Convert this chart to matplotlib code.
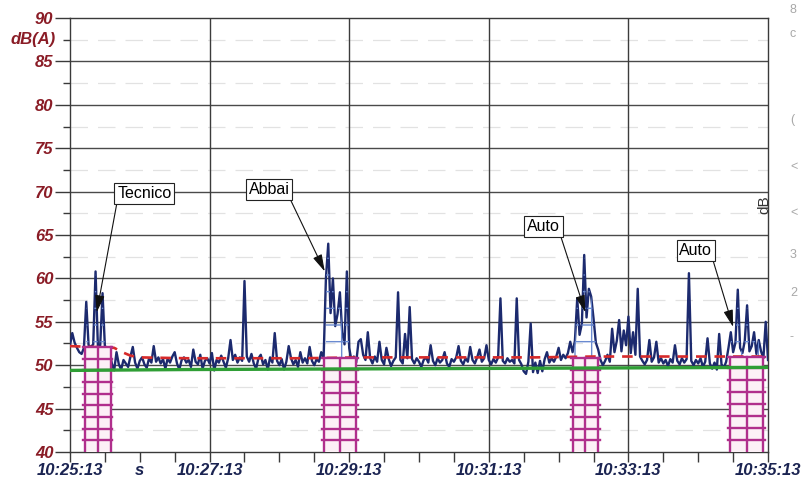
import numpy as np
import matplotlib.pyplot as plt
from matplotlib.patches import Rectangle
import matplotlib.transforms as mtransforms

plt.rcParams['font.family'] = ['Liberation Sans', 'DejaVu Sans']

# --- data -------------------------------------------------------------
# seconds after 10:25:13, one reading every 2 s
step_s = 2
level_db = [
    52.3, 53.7, 52.6, 52.0, 51.5, 51.3, 52.0, 57.3, 52.3, 52.1,
    52.4, 60.8, 52.2, 52.3, 58.3, 52.2, 52.0, 51.6, 50.2, 49.4,
    51.5, 50.1, 49.5, 50.6, 50.2, 49.8, 51.0, 52.1, 50.3, 49.6,
    50.5, 50.9, 50.1, 49.7, 50.8, 50.3, 52.2, 50.4, 50.9, 50.2,
    50.7, 49.6, 50.8, 50.3, 51.0, 51.5, 50.2, 49.5, 50.6, 50.9,
    50.3, 50.6, 49.8, 51.8, 50.4, 50.1, 51.2, 49.6, 50.5, 50.8,
    50.2, 51.4, 49.4, 50.6, 50.3, 51.1, 50.4, 49.7, 50.8, 52.9,
    50.6, 51.2, 50.3, 50.9, 50.5, 59.7, 51.0, 50.4, 51.3, 50.2,
    49.6, 50.8, 51.2, 50.1, 50.6, 49.5, 50.9, 50.3, 53.7, 50.5,
    50.0, 50.7, 49.5, 50.4, 52.2, 50.8, 50.1, 50.6, 49.8, 51.5,
    50.3, 50.8, 50.2, 52.1, 50.5, 50.0, 50.7, 50.4, 51.5, 50.8,
    60.0, 64.0, 56.0, 60.0, 54.5, 55.9, 58.4, 53.8, 52.4, 60.8,
    52.0, 50.5, 51.0, 50.3, 52.7, 53.0, 51.2, 50.6, 53.8, 50.8,
    50.2, 51.0, 50.4, 52.7, 50.6, 50.1, 52.0, 50.7, 49.9, 50.5,
    50.9, 58.4, 50.6, 50.2, 53.6, 50.8, 56.7, 50.7, 50.2, 50.8,
    50.4, 49.8, 50.6, 50.9, 50.3, 52.3, 50.5, 50.0, 50.8, 50.3,
    50.6, 51.5, 50.2, 49.8, 50.7, 50.4, 50.9, 52.2, 50.5, 50.1,
    50.8, 50.4, 52.1, 50.6, 50.2, 50.9, 51.8, 50.4, 50.8, 52.3,
    50.6, 50.1, 50.7, 50.3, 50.9, 57.7, 50.5, 50.2, 50.8, 50.4,
    50.6, 50.2, 57.7, 50.6, 50.1, 49.3, 49.0, 50.4, 54.8, 49.2,
    50.3, 49.1, 50.5, 49.3, 50.7, 51.5, 50.3, 50.8, 50.4, 51.0,
    52.0, 50.6, 51.2, 50.8, 51.4, 52.7, 51.5, 52.8, 57.7, 53.5,
    54.8, 62.7, 55.5, 58.8, 57.9, 55.4, 52.6, 51.8, 50.6, 50.0,
    50.5, 51.2, 50.4, 54.2, 51.5, 52.8, 55.2, 51.6, 54.0, 52.3,
    55.6, 51.4, 53.8, 51.2, 58.8, 51.0, 50.5, 50.1, 50.6, 52.9,
    50.4, 50.9, 52.7, 50.3, 50.8, 50.2, 50.6, 49.9, 50.7, 50.3,
    52.3, 50.5, 50.1, 50.8, 50.3, 50.7, 60.6, 50.5, 50.0, 50.6,
    50.2, 50.8, 49.8, 50.4, 53.1, 50.2, 49.6, 50.3, 49.5, 53.6,
    50.1, 49.7, 50.4, 52.0, 53.8, 51.5, 52.6, 58.7, 52.0, 51.4,
    52.8, 56.9, 51.6, 52.2, 53.8, 51.3, 52.9, 51.6, 50.8, 55.0,
    50.6,
]

# running average (red dashed)
avg_t = [0, 20, 38, 45, 52, 60, 100, 150, 200, 250, 300, 350, 400, 450, 500, 550, 600]
avg_db = [52.2, 52.1, 52.0, 51.5, 51.1, 50.9, 50.8, 50.8, 50.8, 50.9, 50.9, 50.9,
          50.9, 51.0, 51.0, 51.0, 51.0]

# background level (green)
bg_t = [0, 100, 200, 300, 400, 500, 600]
bg_db = [49.4, 49.5, 49.55, 49.6, 49.65, 49.7, 49.75]

# marked events
ev_names = ['Tecnico', 'Abbai', 'Auto', 'Auto']
ev_start = [13, 218, 432, 567]
ev_end = [35, 246, 454, 596]
ev_top = [52.1, 50.8, 50.8, 51.0]
ev_label_t = [64, 171, 407, 538]
ev_label_db = [69.8, 70.2, 66.0, 63.2]
ev_arrow_t = [23, 219, 443, 570]
ev_arrow_db = [56.1, 60.8, 56.1, 54.4]

xtick_pos = [0, 60, 120, 240, 360, 480, 600]
xtick_labels = ['10:25:13', 's', '10:27:13', '10:29:13', '10:31:13', '10:33:13', '10:35:13']
ytick_pos = [40, 45, 50, 55, 60, 65, 70, 75, 80, 85, 90]

# --- plot -------------------------------------------------------------
t = np.arange(len(level_db)) * step_s
level = np.array(level_db)

fig = plt.figure(figsize=(8.06, 4.83), dpi=100)
ax = fig.add_axes([0.0868, 0.0642, 0.8661, 0.8985])

ax.set_xlim(0, 600)
ax.set_ylim(40, 90)

# grid
for y in ytick_pos[1:-1]:
    ax.axhline(y, color='#4a4a4a', lw=1.0, zorder=1)
for y in np.arange(42.5, 90, 5):
    ax.axhline(y, color='#e2e2e2', lw=0.9, ls=(0, (14, 8)), zorder=0.5)
for x in [120, 240, 360, 480]:
    ax.axvline(x, color='#3c3c3c', lw=1.0, zorder=1)

# measured level
ax.plot(t, level, color='#1c2a6e', lw=1.7, zorder=3)
ax.plot(avg_t, avg_db, color='#d62a2a', lw=1.9, ls=(0, (4, 3)), zorder=3.5)

# marked events: hatched area above the box, magenta ladder below
for s0, s1, top in zip(ev_start, ev_end, ev_top):
    m = (t >= s0) & (t <= s1)
    ax.fill_between(t, top, level, where=m & (level > top), facecolor='none',
                    edgecolor='#6a8ad0', hatch='+', lw=0, zorder=3.2)
    ax.add_patch(Rectangle((s0, 40), s1 - s0, top - 40, fc='#fcf0f6', ec='none', zorder=4))
    for x in [s0, (s0 + s1) / 2, s1]:
        ax.plot([x, x], [40, top], color='#b02f8c', lw=1.7, zorder=4.5)
    n = int(round((top - 40) / 1.3))
    for y in np.linspace(40, top, n + 1)[1:]:
        ax.plot([s0 - 1.5, s1 + 1.5], [y, y], color='#b02f8c', lw=1.7, zorder=4.5)

ax.plot(bg_t, bg_db, color='#2f9e35', lw=2.4, zorder=5)

# annotations
for name, lt, ld, at, ad in zip(ev_names, ev_label_t, ev_label_db, ev_arrow_t, ev_arrow_db):
    ax.annotate(name, xy=(at, ad), xytext=(lt, ld), fontsize=11.5, ha='center', va='center',
                bbox=dict(boxstyle='square,pad=0.18', fc='white', ec='#222222', lw=0.8),
                arrowprops=dict(arrowstyle='-|>,head_length=0.9,head_width=0.25', color='#111111',
                                lw=0.8, shrinkA=0, shrinkB=0,
                                relpos=(0.0 if at < lt else 1.0, 0.0)),
                zorder=6)

# axes styling
for sp in ax.spines.values():
    sp.set_color('#3a3a3a')
    sp.set_linewidth(1.0)

ax.set_yticks(ytick_pos)
ax.set_yticklabels([str(v) for v in ytick_pos], fontsize=12, fontweight='bold',
                   fontstyle='italic', color='#8a1c26')
ax.set_yticks(np.arange(42.5, 90, 5), minor=True)
ax.tick_params(axis='y', which='major', length=11, width=1, color='#3a3a3a', pad=1)
ax.tick_params(axis='y', which='minor', length=5, width=1, color='#3a3a3a')

ax.set_xticks(xtick_pos)
ax.set_xticklabels(xtick_labels, fontsize=12, fontweight='bold', fontstyle='italic',
                   color='#1b2452')
ax.set_xticks(np.arange(30, 600, 30), minor=True)
ax.tick_params(axis='x', which='both', length=7, width=1, color='#3a3a3a', pad=1)

trans = mtransforms.blended_transform_factory(ax.transAxes, ax.transData)
ax.text(-0.021, 87.5, 'dB(A)', transform=trans, ha='right', va='center', fontsize=12,
        fontweight='bold', fontstyle='italic', color='#8a1c26')
ax.text(0.995, 0.57, 'dB', transform=ax.transAxes, rotation=90, ha='center', va='center',
        fontsize=11, color='#333333')

# faint labels of the neighbouring chart at the right edge
for ypx, s in zip([10, 34, 120, 167, 213, 255, 293, 337], ['8', 'c', '(', '<', '<', '3', '2', '-']):
    fig.text(790 / 806, 1 - ypx / 483, s, fontsize=9, color='#a8a8a8', ha='left', va='center')

fig.savefig('out.png', dpi=100)
